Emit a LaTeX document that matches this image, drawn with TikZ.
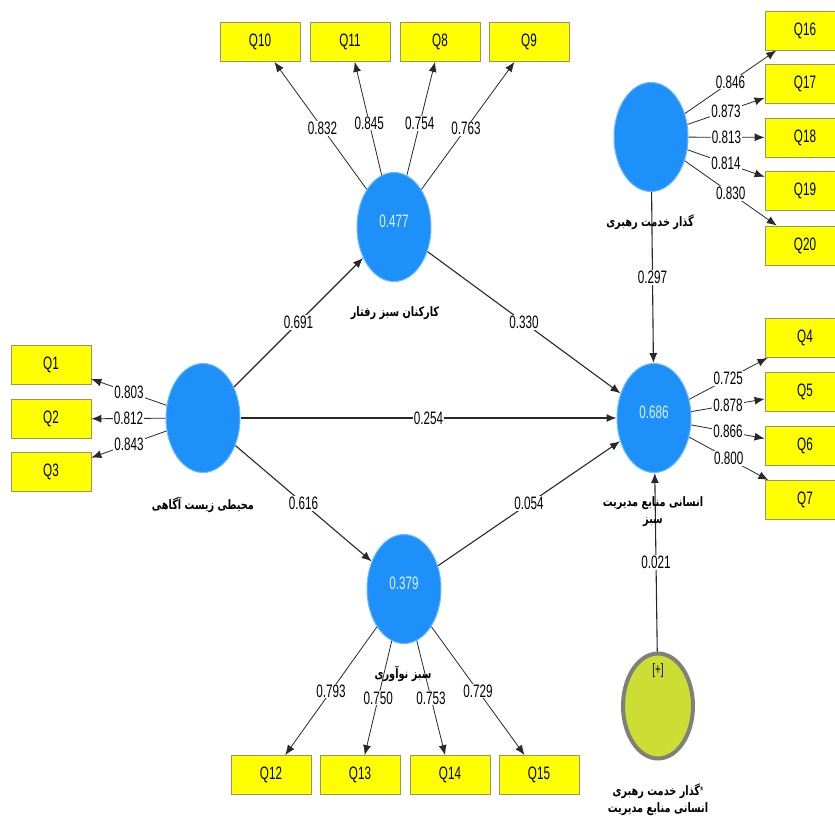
\documentclass[tikz,border=0pt]{standalone}
\usepackage{fontspec}
\setmainfont{Liberation Sans}[FakeStretch=0.65]
\newfontfamily\fa[Script=Arabic,FakeStretch=0.75]{DejaVu Sans}
\TeXXeTstate=1
\usetikzlibrary{arrows.meta,shapes.geometric}
\definecolor{lvblue}{RGB}{30,144,250}
\definecolor{lvedge}{RGB}{110,185,255}
\definecolor{lvtext}{RGB}{225,240,255}
\definecolor{boxedge}{RGB}{150,150,100}
\definecolor{boxfill}{RGB}{255,255,0}
\definecolor{modfill}{RGB}{204,221,51}
\definecolor{modedge}{RGB}{128,128,120}
\definecolor{linec}{RGB}{40,40,40}
\newcommand\numf{\fontsize{18}{20}\selectfont}
\begin{document}
\begin{tikzpicture}[x=1pt,y=-1pt,
  ind/.style={draw=boxedge, line width=0.8pt, fill=boxfill, minimum width=80pt, minimum height=39pt, inner sep=0pt, font=\numf},
  lv/.style={ellipse, draw=lvedge, line width=1pt, fill=lvblue, minimum width=74pt, minimum height=109pt, inner sep=0pt, text=lvtext, text depth=11pt, font=\numf},
  modst/.style={ellipse, draw=modedge, line width=4pt, fill=modfill, minimum width=70pt, minimum height=105pt, inner sep=0pt},
  val/.style={fill=white, inner sep=1pt, font=\numf, text=black},
  ld/.style={draw=linec, line width=0.8pt, -{Latex[length=10pt,width=8pt]}},
  pth/.style={draw=linec, line width=1.1pt, -{Latex[length=10pt,width=8pt]}},
  clabel/.style={font=\fa\bfseries\fontsize{13}{17}\selectfont, align=center, inner sep=0pt}
]
\useasboundingbox (0,0) rectangle (835,825);
\fill[white] (0,0) rectangle (835,825);

% latent variables
\node[lv] (aware) at (203,418) {};
\node[lv] (rafter) at (394,227) {0.477};
\node[lv] (innov) at (404,589) {0.379};
\node[lv] (ghrm) at (654,418) {0.686};
\node[lv] (leader) at (651,137) {};
\node[modst, label={[anchor=north, yshift=-9pt, font=\fontsize{15}{15}\selectfont]north:{[+]}}] (mod) at (658,706) {};

% indicators
\node[ind] (q1) at (51,365) {Q1};
\node[ind] (q2) at (51,419) {Q2};
\node[ind] (q3) at (51,472) {Q3};
\node[ind] (q10) at (260,42) {Q10};
\node[ind] (q11) at (350,42) {Q11};
\node[ind] (q8) at (440,42) {Q8};
\node[ind] (q9) at (529,42) {Q9};
\node[ind] (q12) at (271,775) {Q12};
\node[ind] (q13) at (360,775) {Q13};
\node[ind] (q14) at (450,775) {Q14};
\node[ind] (q15) at (539,775) {Q15};
\node[ind] (q16) at (805,30.5) {Q16};
\node[ind] (q17) at (805,84) {Q17};
\node[ind] (q18) at (805,137.5) {Q18};
\node[ind] (q19) at (805,191) {Q19};
\node[ind] (q20) at (805,245.5) {Q20};
\node[ind] (q4) at (805,338) {Q4};
\node[ind] (q5) at (805,392) {Q5};
\node[ind] (q6) at (805,446) {Q6};
\node[ind] (q7) at (805,500) {Q7};

% loadings
\draw[ld] (aware) -- node[val]{0.803} (q1);
\draw[ld] (aware) -- node[val]{0.812} (q2);
\draw[ld] (aware) -- node[val]{0.843} (q3);
\draw[ld] (rafter) -- node[val, pos=0.48]{0.832} (q10);
\draw[ld] (rafter) -- node[val, pos=0.46]{0.845} (q11);
\draw[ld] (rafter) -- node[val, pos=0.46]{0.754} (q8);
\draw[ld] (rafter) -- node[val, pos=0.48]{0.763} (q9);
\draw[ld] (innov) -- node[val]{0.793} (q12);
\draw[ld] (innov) -- node[val]{0.750} (q13);
\draw[ld] (innov) -- node[val]{0.753} (q14);
\draw[ld] (innov) -- node[val]{0.729} (q15);
\draw[ld] (leader) -- node[val]{0.846} (q16);
\draw[ld] (leader) -- node[val]{0.873} (q17);
\draw[ld] (leader) -- node[val]{0.813} (q18);
\draw[ld] (leader) -- node[val]{0.814} (q19);
\draw[ld] (leader) -- node[val]{0.830} (q20);
\draw[ld] (ghrm) -- node[val]{0.725} (q4);
\draw[ld] (ghrm) -- node[val]{0.878} (q5);
\draw[ld] (ghrm) -- node[val]{0.866} (q6);
\draw[ld] (ghrm) -- node[val]{0.800} (q7);

% structural paths
\draw[pth] (aware) -- node[val]{0.691} (rafter);
\draw[pth] (aware) -- node[val]{0.254} (ghrm);
\draw[pth] (aware) -- node[val]{0.616} (innov);
\draw[pth] (rafter) -- node[val]{0.330} (ghrm);
\draw[pth] (innov) -- node[val]{0.054} (ghrm);
\draw[pth] (leader) -- node[val]{0.297} (ghrm);
\draw[pth] (mod) -- node[val]{0.021} (ghrm);

% construct names (word order as printed in the picture)
\node[clabel] (awareL) at (203,505) {\beginR محیطی زیست آگاهی\endR};
\node[clabel] (rafterL) at (395,313) {\beginR کارکنان سبز رفتار\endR};
\node[clabel] (innovL) at (403,674) {\beginR سبز نوآوری\endR};
\node[clabel] (ghrmL) at (653,512) {\beginR انسانی منابع مدیریت\endR\\\beginR سبز\endR};
\node[clabel] (leaderL) at (650,222) {\beginR گذار خدمت رهبری\endR};
\node[clabel] (modL) at (658,800) {\beginR{\rmfamily\mdseries *}گذار خدمت رهبری\endR\\\beginR انسانی منابع مدیریت\endR};
\end{tikzpicture}
\end{document}
